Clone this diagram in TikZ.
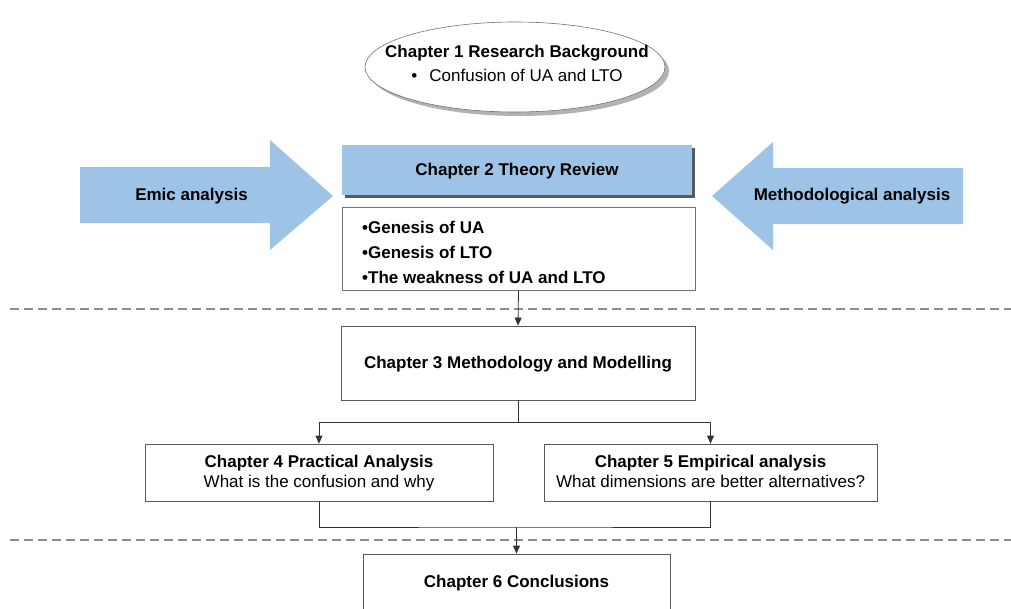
\documentclass[tikz,border=0pt]{standalone}
\usepackage{fontspec}
\setmainfont{Liberation Sans}
\usetikzlibrary{shapes.geometric,shadows,arrows.meta}
\definecolor{blueA}{HTML}{9DC3E6}
\begin{document}
\begin{tikzpicture}[x=1pt,y=-1pt,
  box/.style={draw=black!65, line width=0.8pt, fill=white, inner sep=0pt, align=center, font=\fs},
  conn/.style={draw=black!80, line width=0.8pt},
  arr/.style={conn,-{Triangle[length=8pt,width=7pt]}},
  dashline/.style={draw=black!45, line width=1.6pt, dash pattern=on 9pt off 5pt},
  bigarrow/.style={fill=blueA, draw=none},
  ttl/.style={font=\fs\bfseries},
  txt/.style={font=\fs},
]
\newcommand{\fs}{\fontsize{17}{20}\selectfont}
\useasboundingbox (0,0) rectangle (1011,608);
\clip (0,0) rectangle (1011,608);

% dashed separators
\coordinate (d1a) at (10,309); \coordinate (d1b) at (1011,309);
\coordinate (d2a) at (10,540); \coordinate (d2b) at (1011,540);
\draw[dashline] (d1a) -- (d1b);
\draw[dashline] (d2a) -- (d2b);

% chapter 1 ellipse
\node[ellipse, draw=black!55, line width=0.6pt, fill=white, minimum width=300pt, minimum height=90pt,
  drop shadow={shadow xshift=4pt, shadow yshift=-4pt, fill=black!60, opacity=0.5}] (c1) at (515,67) {};
\node[ttl] (c1t) at (517,53) {Chapter 1 Research Background};
\node[txt] (c1b) at (517,75) {\textbullet\hspace{12pt}Confusion of UA and LTO};

% side arrows
\fill[bigarrow] (80,167) -- (270,167) -- (270,140) -- (333,196) -- (270,250) -- (270,223) -- (80,223) -- cycle;
\node[ttl] (emic) at (191.5,196) {Emic analysis};
\fill[bigarrow] (963,168) -- (773,168) -- (773,142) -- (712,196) -- (773,250) -- (773,224) -- (963,224) -- cycle;
\node[ttl] (meth) at (852,196) {Methodological analysis};

% chapter 2
\node[box, fill=blueA, draw=none, minimum width=350pt, minimum height=50pt,
  drop shadow={shadow xshift=3pt, shadow yshift=-3pt, fill=black!65, opacity=1}] (c2) at (517,170) {};
\node[ttl] (c2t) at (517,171) {Chapter 2 Theory Review};
\node[box, draw=black!55, minimum width=353pt, minimum height=83pt] (bul) at (518.5,248.5) {};
\node[anchor=west, align=left, inner sep=0pt, font=\fontsize{17}{25}\selectfont\bfseries] (bult) at (362,252)
  {\textbullet Genesis of UA\\ \textbullet Genesis of LTO\\ \textbullet The weakness of UA and LTO};

% chapter 3
\node[box, minimum width=354pt, minimum height=74pt] (c3) at (518,363) {};
\node[ttl] (c3t) at (518,364) {Chapter 3 Methodology and Modelling};

% chapter 4 and 5
\node[box, minimum width=348pt, minimum height=57pt] (c4) at (319,472.5) {};
\node[txt, align=center] (c4t) at (319,473)
  {\strut\textbf{Chapter 4 Practical Analysis}\\ \strut What is the confusion and why};
\node[box, minimum width=333pt, minimum height=57pt] (c5) at (710.5,472.5) {};
\node[txt, align=center] (c5t) at (710.5,473)
  {\strut\textbf{Chapter 5 Empirical analysis}\\ \strut What dimensions are better alternatives?};

% chapter 6
\node[box, minimum width=307pt, minimum height=80pt] (c6) at (516.5,594) {};
\node[ttl] (c6t) at (516.5,583) {Chapter 6 Conclusions};

% connectors
\draw[arr] (bul.south) -- (c3.north);
\coordinate (j1) at (518,422);
\draw[conn] (c3.south) -- (j1);
\draw[arr] (j1) -| (c4.north);
\draw[arr] (j1) -| (c5.north);
\coordinate (j2) at (516.5,527);
\draw[conn] (c4.south) |- (j2) -| (c5.south);
\draw[arr] (j2) -- (c6.north);
\end{tikzpicture}
\end{document}
